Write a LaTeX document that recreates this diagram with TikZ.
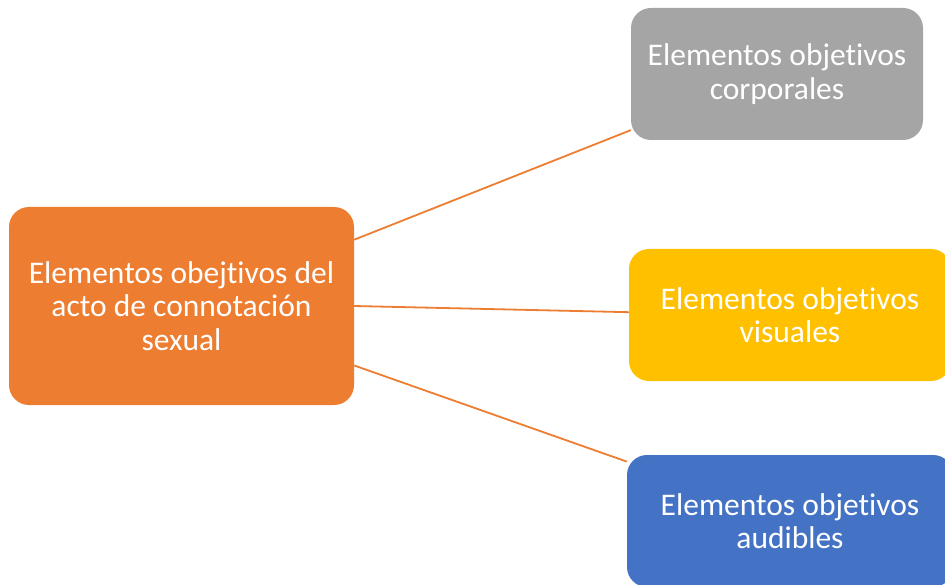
\documentclass[tikz,border=0pt]{standalone}
\usepackage{fontspec}
\setmainfont{Carlito}[Ligatures=NoCommon]
\definecolor{accOrange}{HTML}{ED7D31}
\definecolor{accGray}{HTML}{A5A5A5}
\definecolor{accGold}{HTML}{FFC000}
\definecolor{accBlue}{HTML}{4472C4}
\begin{document}
\begin{tikzpicture}[x=1pt, y=-1pt,
    boxStyle/.style={rounded corners=20pt, text=white, align=center, inner sep=0pt,
        minimum height=132pt, font=\fontsize{31.5}{33.5}\selectfont},
    linkStyle/.style={draw=accOrange, line width=1.8pt}]
    \useasboundingbox (0, 0) rectangle (945, 585);
    \node[boxStyle, fill=accOrange, minimum width=345pt, minimum height=198pt](root) at (181.5, 306) {Elementos obejtivos del\\acto de connotación\\sexual};
    \node[boxStyle, fill=accGray, minimum width=292pt](corp) at (777, 74) {Elementos objetivos\\corporales};
    \node[boxStyle, fill=accGold, minimum width=322pt](vis) at (790, 315) {Elementos objetivos\\visuales};
    \node[boxStyle, fill=accBlue, minimum width=326pt](aud) at (790, 521) {Elementos objetivos\\audibles};

    \draw[linkStyle] (root.21.5) -- (corp.201.7);
    \draw[linkStyle] (root.-0.7) -- (vis.179);
    \draw[linkStyle] (root.-19.8) -- (aud.160.8);
\end{tikzpicture}
\end{document}
